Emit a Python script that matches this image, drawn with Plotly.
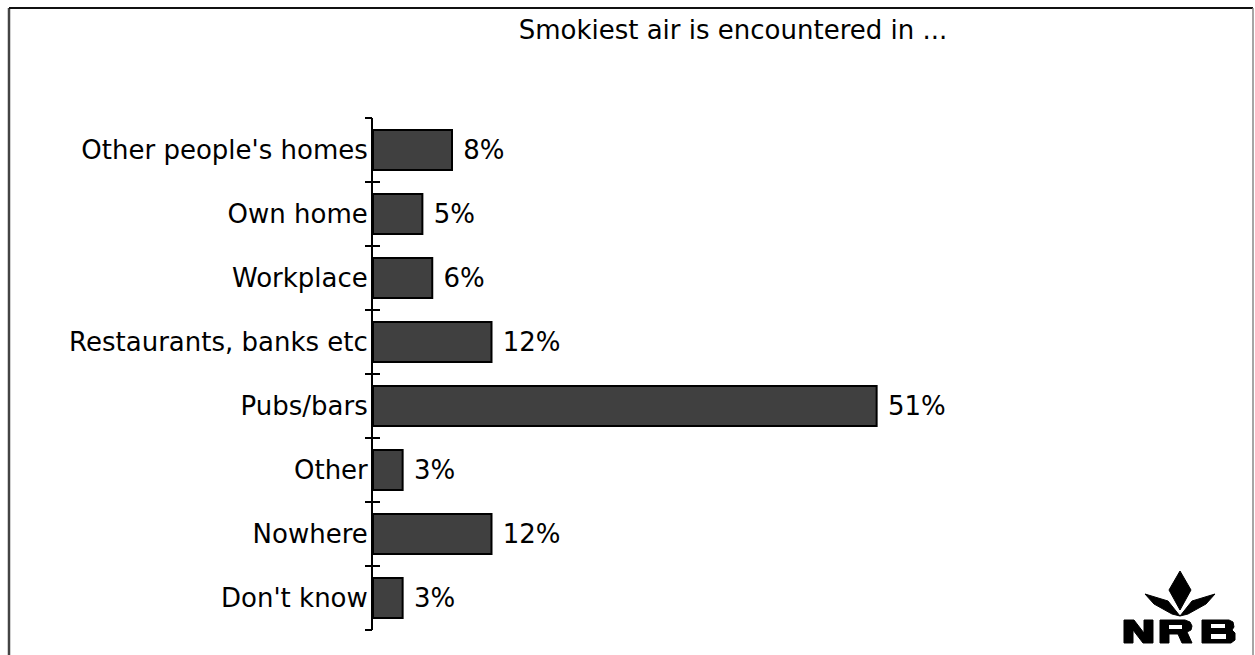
import plotly.graph_objects as go

# Survey answers: where the smokiest air is encountered
categories = [
    "Other people's homes",
    "Own home",
    "Workplace",
    "Restaurants, banks etc",
    "Pubs/bars",
    "Other",
    "Nowhere",
    "Don't know",
]
shares = [8, 5, 6, 12, 51, 3, 12, 3]
value_labels = [f"{v}%" for v in shares]

title_text = "Smokiest air is encountered in ..."
FONT = "Verdana, DejaVu Sans, sans-serif"
FS = 26

W, H = 1255, 655
L, R, T, B = 373, 92, 118, 25
PW, PH = W - L - R, H - T - B


def px_to_paper(px, py):
    return (px - L) / PW, (H - B - py) / PH


n = len(categories)
boundaries = [i - 0.5 for i in range(n + 1)]

fig = go.Figure()
fig.add_trace(go.Bar(
    x=shares,
    y=categories,
    orientation="h",
    marker=dict(color="#404040", line=dict(color="#000000", width=2)),
    text=value_labels,
    texttemplate=" %{text}",
    textposition="outside",
    textfont=dict(family=FONT, size=FS, color="#000000"),
    cliponaxis=False,
    showlegend=False,
))

# Boundary tick marks that cross the category axis on both sides
common_tick_axis = dict(
    range=[n - 0.5, -0.5],
    tickmode="array",
    tickvals=boundaries,
    showticklabels=False,
    showgrid=False,
    zeroline=False,
    showline=False,
    ticklen=7,
    tickwidth=2,
    tickcolor="#000000",
    overlaying="y",
    side="left",
    anchor="x",
)
fig.add_trace(go.Scatter(x=[None], y=[None], yaxis="y2", showlegend=False, hoverinfo="skip"))
fig.add_trace(go.Scatter(x=[None], y=[None], yaxis="y3", showlegend=False, hoverinfo="skip"))

# Frame around the chart
frame = [
    (9, 8, 9, 700, "#444444", 2.5),
    (9, 8, 1253, 8, "#111111", 2),
    (1253, 8, 1253, 700, "#888888", 1.5),
]
shapes = []
for x0, y0, x1, y1, col, w in frame:
    a = px_to_paper(x0, y0)
    b = px_to_paper(x1, y1)
    shapes.append(dict(type="line", xref="paper", yref="paper",
                       x0=a[0], y0=a[1], x1=b[0], y1=b[1],
                       line=dict(color=col, width=w)))


def poly_path(points):
    pts = [px_to_paper(x, y) for x, y in points]
    return "M " + " L ".join(f"{x:.5f},{y:.5f}" for x, y in pts) + " Z"


# Logo emblem: central leaf, two side wings and block lettering
CX = 1180
leaf = [(CX, 571), (CX + 11, 590), (CX, 610), (CX - 11, 590)]
wing_l = [(1145, 594), (1168, 601), (CX, 616), (1172, 614), (1154, 604)]
wing_r = [(2 * CX - x, y) for x, y in wing_l]
letter_n = [(1124, 643), (1124, 620), (1134, 620), (1144, 633), (1144, 620), (1153, 620),
            (1153, 643), (1143, 643), (1133, 630), (1133, 643)]
letter_r = [(1160, 643), (1160, 620), (1185, 620), (1190, 622), (1192, 626), (1191, 630),
            (1187, 632), (1192, 643), (1182, 643), (1178, 634), (1169, 634), (1169, 643)]
letter_b = [(1202, 620), (1229, 620), (1233, 622), (1234, 627), (1232, 630), (1235, 633),
            (1235, 640), (1231, 643), (1202, 643)]
counters = [
    [(1169, 625), (1182, 625), (1182, 629), (1169, 629)],
    [(1211, 624), (1225, 624), (1225, 628), (1211, 628)],
    [(1211, 634), (1226, 634), (1226, 639), (1211, 639)],
]

for poly in (leaf, wing_l, wing_r, letter_n, letter_r, letter_b):
    shapes.append(dict(type="path", xref="paper", yref="paper", path=poly_path(poly),
                       fillcolor="#000000", line=dict(color="#000000", width=1)))
for poly in counters:
    shapes.append(dict(type="path", xref="paper", yref="paper", path=poly_path(poly),
                       fillcolor="#ffffff", line=dict(width=0)))

fig.update_layout(
    width=W,
    height=H,
    margin=dict(l=L, r=R, t=T, b=B),
    paper_bgcolor="#ffffff",
    plot_bgcolor="#ffffff",
    bargap=0.375,
    title=dict(text=title_text, x=733 / W, y=1 - 30 / H, xanchor="center", yanchor="middle",
               xref="container", yref="container",
               font=dict(family=FONT, size=FS, color="#000000")),
    xaxis=dict(range=[0, 80], visible=False, fixedrange=True),
    yaxis=dict(
        type="category",
        categoryorder="array",
        categoryarray=categories,
        autorange="reversed",
        showline=True,
        linecolor="#000000",
        linewidth=2,
        ticks="",
        showgrid=False,
        zeroline=False,
        tickfont=dict(family=FONT, size=FS, color="#000000"),
        ticklabelstandoff=-2,
    ),
    yaxis2=dict(ticks="outside", **common_tick_axis),
    yaxis3=dict(ticks="inside", **common_tick_axis),
    shapes=shapes,
)

fig.write_html("out.html")
